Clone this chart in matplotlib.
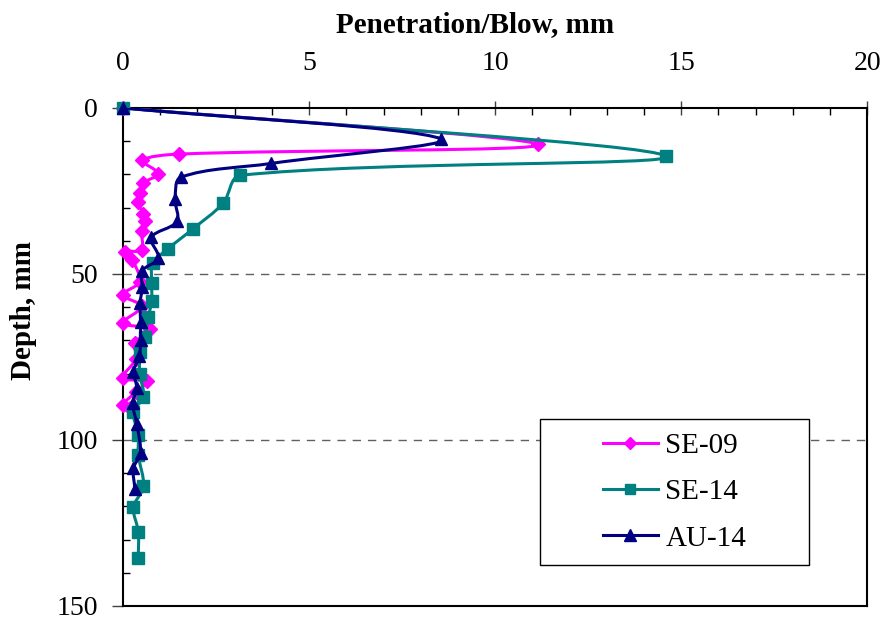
import numpy as np
import matplotlib
matplotlib.use("Agg")
import matplotlib.pyplot as plt
from matplotlib.path import Path
from matplotlib.patches import PathPatch, Rectangle
from matplotlib.lines import Line2D
from matplotlib.ticker import MultipleLocator

plt.rcParams['font.family'] = ['Liberation Serif', 'DejaVu Serif']

# penetration per blow (mm) vs depth (mm)
se09_pen = [0, 11.15, 1.5, 0.52, 0.95, 0.55, 0.45, 0.4, 0.55, 0.6, 0.5, 0.5, 0.05, 0.25,
            0.45, 0.0, 0.5, 0.0, 0.72, 0.32, 0.35, 0.0, 0.64, 0.35, 0.0, 0.2]
se09_depth = [0, 11.0, 13.9, 15.8, 19.8, 22.6, 25.5, 28.2, 32.0, 34.0, 37.0, 42.8, 43.3, 45.8,
              52.3, 56.3, 59.8, 64.8, 66.6, 70.8, 75.5, 81.3, 82.4, 85.5, 89.5, 90.4]

se14_pen = [0, 14.6, 3.15, 2.69, 1.87, 1.2, 0.8, 0.77, 0.77, 0.68, 0.59, 0.46, 0.45, 0.55,
            0.28, 0.41, 0.41, 0.55, 0.28, 0.41, 0.41]
se14_depth = [0, 14.5, 20.3, 28.7, 36.5, 42.5, 46.8, 52.8, 58.3, 62.9, 68.9, 73.6, 80.0, 87.0,
              91.5, 98.5, 104.5, 114.0, 120.3, 127.6, 135.6]

au14_pen = [0, 8.55, 3.99, 1.55, 1.4, 1.45, 0.76, 0.95, 0.5, 0.52, 0.46, 0.47, 0.47, 0.44,
            0.28, 0.37, 0.26, 0.37, 0.47, 0.28, 0.32]
au14_depth = [0, 9.3, 16.7, 20.9, 27.5, 34.2, 39.0, 45.2, 49.2, 53.8, 58.8, 64.4, 69.9, 74.8,
              79.4, 84.4, 88.9, 95.2, 104.0, 108.5, 114.8]

series = [
    ("SE-09", se09_pen, se09_depth, "#FF00FF", "D", 7),
    ("SE-14", se14_pen, se14_depth, "#008080", "s", 8),
    ("AU-14", au14_pen, au14_depth, "#000080", "^", 9),
]


def smooth_path(ax, xs, ys):
    # Excel-like smoothed line: bezier segments, tangents weighted by segment length
    P = ax.transData.transform(np.column_stack([xs, ys]).astype(float))
    n = len(P)
    tan = []
    for i in range(n):
        a = P[max(i - 1, 0)]
        b = P[min(i + 1, n - 1)]
        tan.append(b - a)
    verts = [P[0]]
    codes = [Path.MOVETO]
    for i in range(n - 1):
        d1 = np.hypot(*(P[i + 1] - P[i]))
        d0 = np.hypot(*(P[i] - P[i - 1])) if i > 0 else 0.0
        d2 = np.hypot(*(P[i + 2] - P[i + 1])) if i + 2 < n else 0.0
        c1 = P[i] + tan[i] * d1 / (d0 + d1) / 3 if d0 + d1 > 0 else P[i]
        c2 = P[i + 1] - tan[i + 1] * d1 / (d1 + d2) / 3 if d1 + d2 > 0 else P[i + 1]
        verts += [c1, c2, P[i + 1]]
        codes += [Path.CURVE4] * 3
    verts = ax.transData.inverted().transform(np.array(verts))
    return Path(verts, codes)


fig = plt.figure(figsize=(8.85, 6.24), dpi=100)
ax = fig.add_axes([0.139, 0.029, 0.841, 0.798])
ax.set_xlim(0, 20)
ax.set_ylim(150, 0)

handles = []
for k, (name, pen, depth, col, mk, ms) in enumerate(series):
    patch = PathPatch(smooth_path(ax, pen, depth), facecolor="none", edgecolor=col,
                      lw=2.2, capstyle="round", joinstyle="round", zorder=3 + k)
    ax.add_patch(patch)
    ax.plot(pen, depth, ls="none", marker=mk, ms=ms, color=col, zorder=3 + k, clip_on=False)
    handles.append(Line2D([], [], color=col, lw=2.2, marker=mk, ms=ms - 1, label=name))

ax.xaxis.tick_top()
ax.xaxis.set_label_position("top")
ax.xaxis.set_major_locator(MultipleLocator(5))
ax.xaxis.set_minor_locator(MultipleLocator(1))
ax.yaxis.set_major_locator(MultipleLocator(50))
ax.yaxis.set_minor_locator(MultipleLocator(10))
ax.tick_params(axis="x", which="major", direction="inout", length=10, width=1,
               labelsize=20, pad=18)
ax.tick_params(axis="x", which="minor", direction="in", length=5, width=1)
ax.tick_params(axis="y", which="major", direction="out", length=8, width=1,
               labelsize=20, pad=10)
ax.tick_params(axis="y", which="minor", direction="in", length=5, width=1)
ax.tick_params(colors="#404040", labelcolor="black")
for s in ax.spines.values():
    s.set_linewidth(1.5)

for d in (50, 100):
    ax.axhline(d, color="#606060", lw=1, ls=(0, (6, 5)), zorder=1)

ax.set_xlabel("Penetration/Blow, mm", fontsize=21, fontweight="bold")
ax.xaxis.set_label_coords(0.473, 1.167)
ax.xaxis.label.set_verticalalignment("center")
ax.set_ylabel("Depth, mm", fontsize=21, fontweight="bold", labelpad=14)
ax.yaxis.label.set_y(0.594)

# legend box
ax.add_patch(Rectangle((0.56, 0.082), 0.362, 0.293, transform=ax.transAxes,
                       facecolor="white", edgecolor="black", lw=1, zorder=10))
leg = ax.legend(handles=handles, loc="center",
                bbox_to_anchor=(0.56 + 0.362 / 2, 0.082 + 0.293 / 2),
                fontsize=21, frameon=False, labelspacing=0.68, handlelength=1.9,
                handletextpad=0.25, borderaxespad=0)
leg.set_zorder(11)

fig.savefig("out.png", dpi=100)
